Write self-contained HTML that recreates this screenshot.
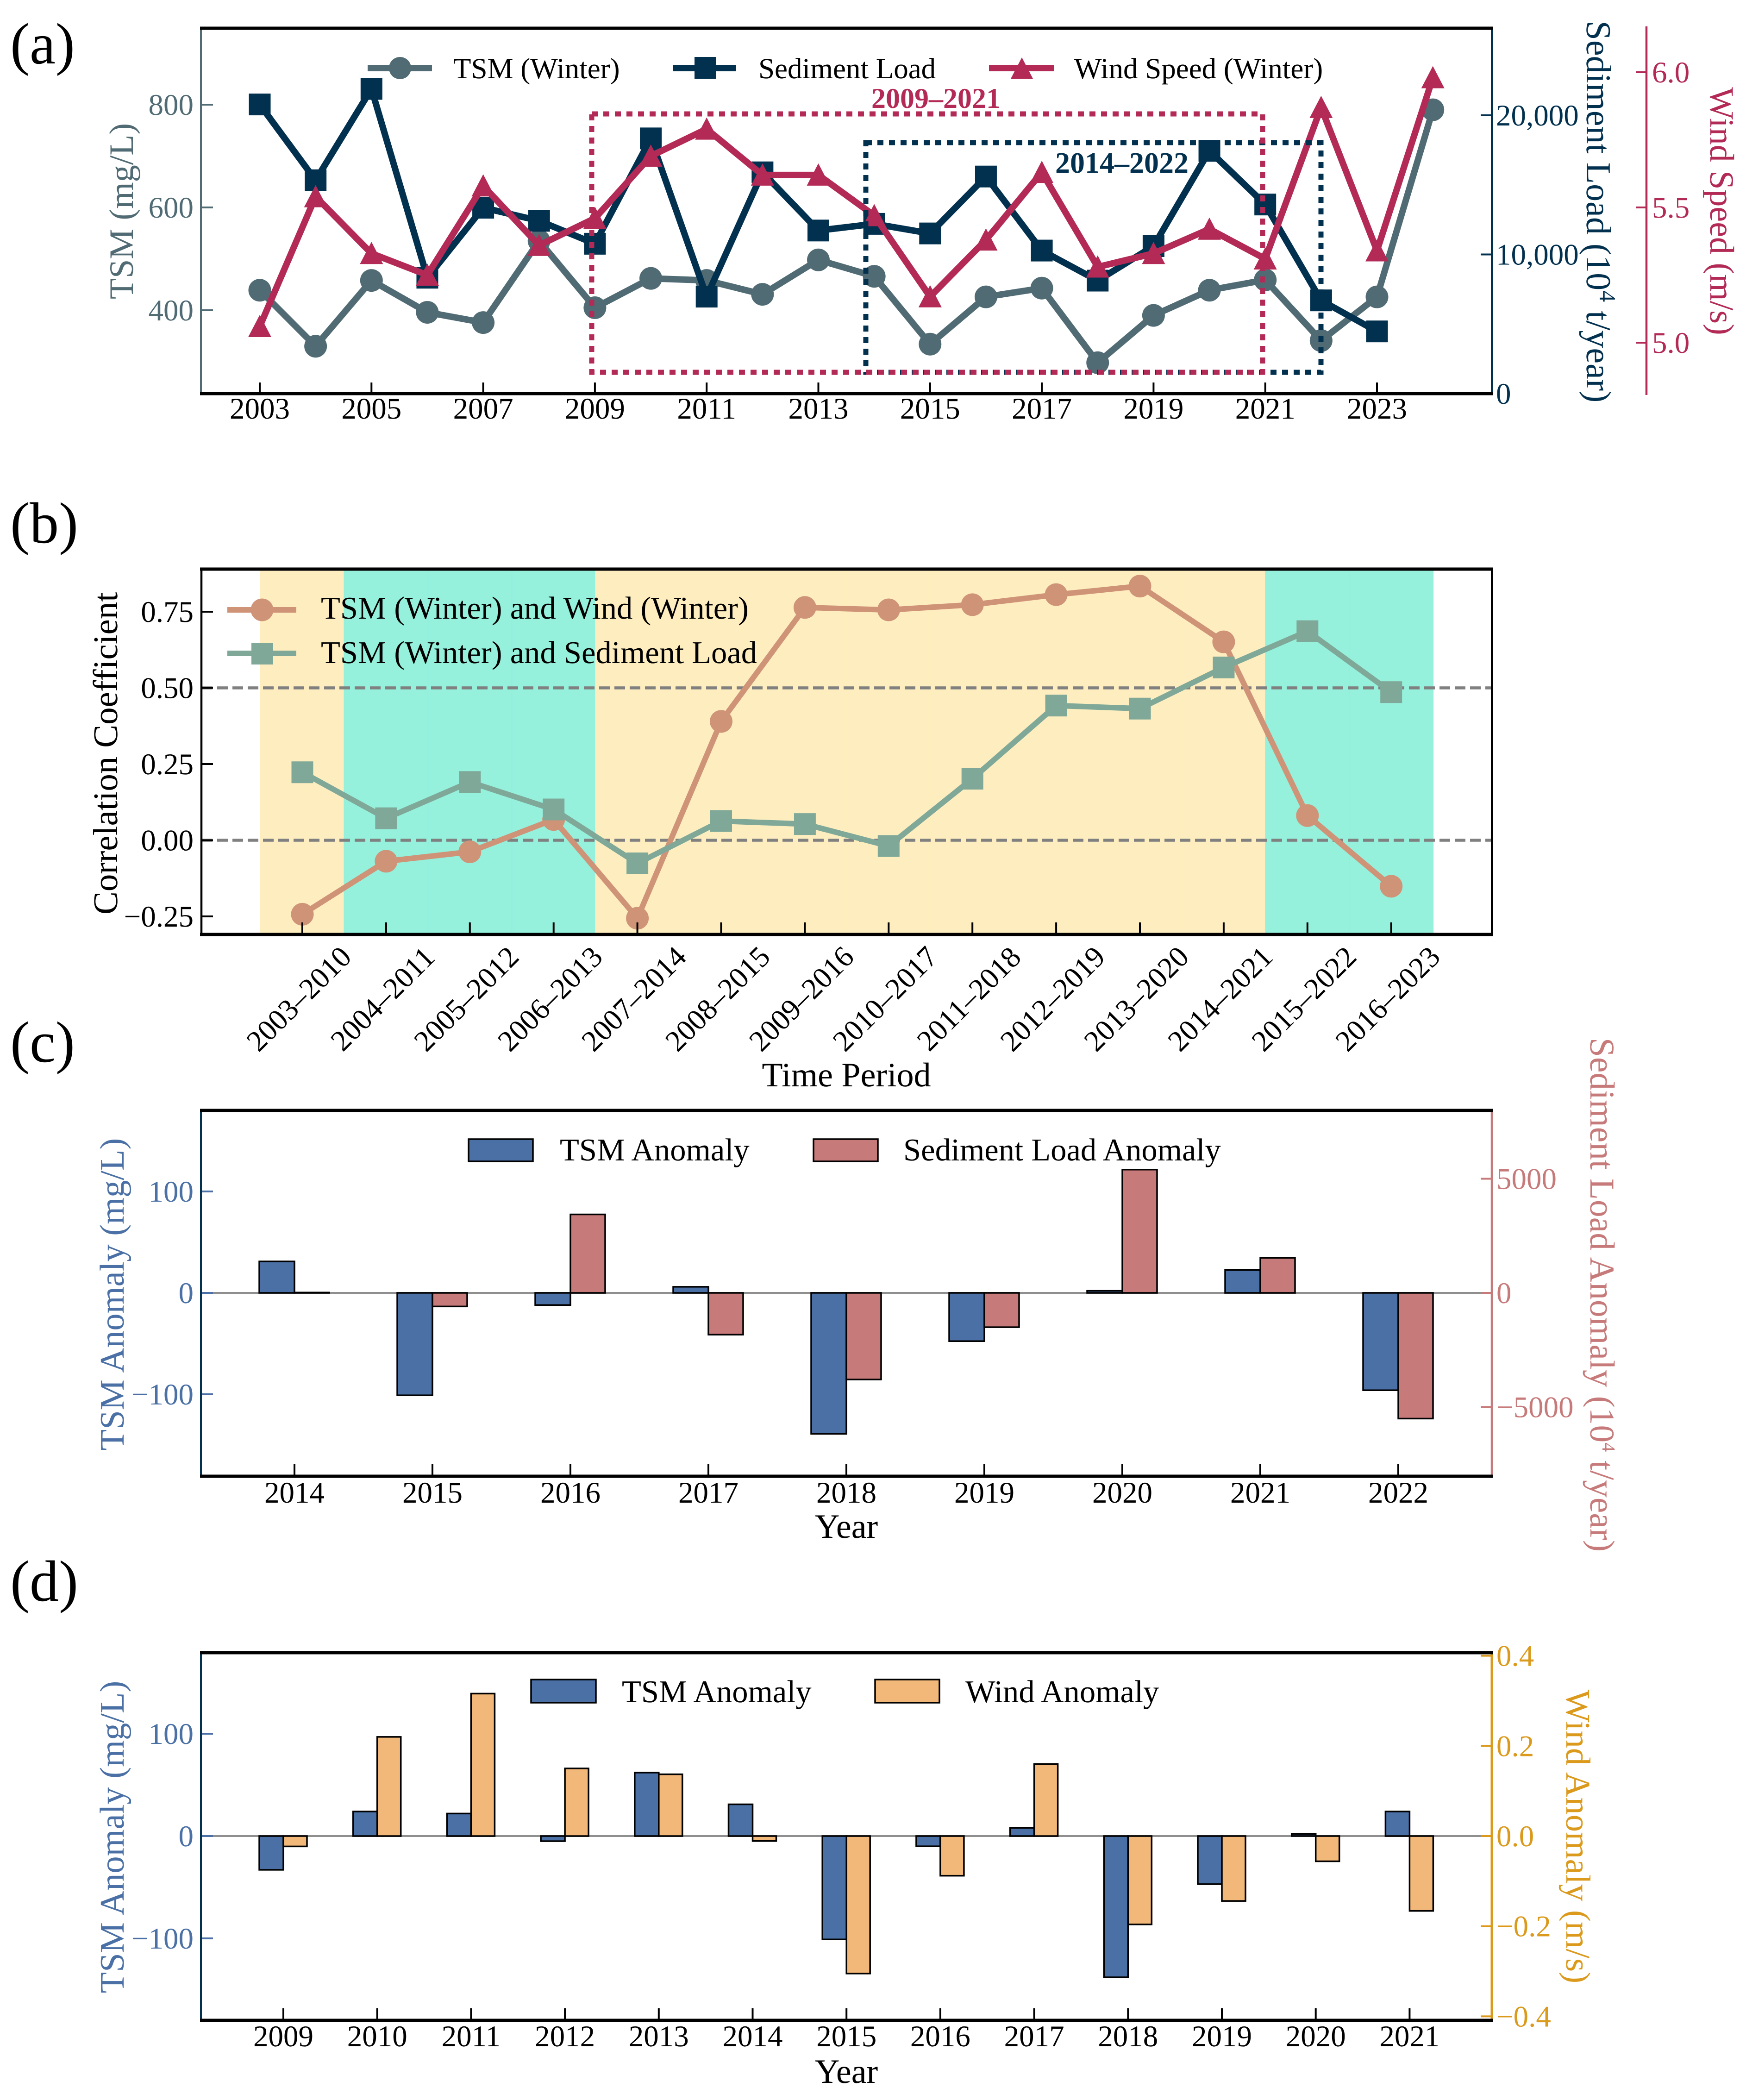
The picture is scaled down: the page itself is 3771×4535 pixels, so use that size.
<!DOCTYPE html>
<html lang="en">
<head>
<meta charset="utf-8">
<title>TSM, sediment load and wind speed</title>
<style>
html,body{margin:0;padding:0;background:#fff;}
svg{display:block;position:absolute;left:0;top:0;}
text{font-family:"Liberation Serif","Times New Roman",serif;text-rendering:geometricPrecision;}
</style>
</head>
<body>
<svg id="figure" xmlns="http://www.w3.org/2000/svg" width="3771" height="4535" viewBox="0 0 3771 4535">
  <rect x="0" y="0" width="3771" height="4535" fill="#ffffff"/>

  <!-- Panel letters -->
  <text x="22" y="137" font-size="126">(a)</text>
  <text x="22" y="1172" font-size="126">(b)</text>
  <text x="22" y="2293" font-size="126">(c)</text>
  <text x="22" y="3457" font-size="126">(d)</text>

  <g id="panelA"></g>
  <g id="panelB"></g>
  <g id="panelC"></g>
  <g id="panelD"></g>

  <!-- Panel A frame -->
  <g>
    <line x1="434" y1="61" x2="434" y2="850" stroke="#516b74" stroke-width="4"/>
    <line x1="3222" y1="61" x2="3222" y2="850" stroke="#02304f" stroke-width="4"/>
    <line x1="3556" y1="57" x2="3556" y2="853" stroke="#b22a55" stroke-width="4.5"/>
    <line x1="432" y1="61" x2="3224" y2="61" stroke="#000" stroke-width="7"/>
    <line x1="432" y1="850" x2="3224" y2="850" stroke="#000" stroke-width="7"/>
  </g>
  <text transform="translate(287,456) rotate(-90)" text-anchor="middle" font-size="74" fill="#516b74">TSM (mg/L)</text>
  <text transform="translate(3427,457) rotate(90)" text-anchor="middle" font-size="76" fill="#02304f">Sediment Load (10<tspan dy="-28" font-size="50">4</tspan><tspan dy="28"> t/year)</tspan></text>
  <text transform="translate(3694,456) rotate(90)" text-anchor="middle" font-size="74" fill="#b22a55">Wind Speed (m/s)</text>
  <rect x="1870" y="308" width="983" height="496" fill="none" stroke="#02304f" stroke-width="11" stroke-dasharray="13 12"/>
  <rect x="1278" y="246" width="1449" height="558" fill="none" stroke="#b22a55" stroke-width="11" stroke-dasharray="13 12"/>
  <text x="1882" y="233" font-size="62" font-weight="bold" fill="#b22a55">2009–2021</text>
  <text x="2279" y="373" font-size="64" font-weight="bold" fill="#02304f">2014–2022</text>
  <g>
    <g>
      <line x1="794" y1="147" x2="933" y2="147" stroke="#516b74" stroke-width="14"/>
      <circle cx="864" cy="147" r="24" fill="#516b74"/>
      <text x="979" y="169" font-size="63">TSM (Winter)</text>
    </g>
    <g>
      <line x1="1454" y1="147" x2="1590" y2="147" stroke="#02304f" stroke-width="14"/>
      <rect x="1500" y="123" width="47" height="47" fill="#02304f"/>
      <text x="1638" y="169" font-size="63">Sediment Load</text>
    </g>
    <g>
      <line x1="2136" y1="147" x2="2276" y2="147" stroke="#b22a55" stroke-width="14"/>
      <polygon points="2207,124 2231,170 2183,170" fill="#b22a55"/>
      <text x="2320" y="169" font-size="63">Wind Speed (Winter)</text>
    </g>
  </g>

  <!-- Panel B frame -->
  <g>
    <line x1="435" y1="1229" x2="435" y2="2017" stroke="#000" stroke-width="4.5"/>
    <line x1="3222" y1="1229" x2="3222" y2="2017" stroke="#000" stroke-width="4"/>
    <line x1="432" y1="1229" x2="3224" y2="1229" stroke="#000" stroke-width="7"/>
    <line x1="432" y1="2018" x2="3224" y2="2018" stroke="#000" stroke-width="7"/>
  </g>
  <text transform="translate(253,1627) rotate(-90)" text-anchor="middle" font-size="75" fill="#000">Correlation Coefficient</text>
  <text x="1828" y="2346" text-anchor="middle" font-size="74" fill="#000">Time Period</text>
  <g>
    <g>
      <line x1="491" y1="1317" x2="640" y2="1317" stroke="#cf9378" stroke-width="12"/>
      <circle cx="566" cy="1317" r="24.5" fill="#cf9378"/>
      <text x="693" y="1336" font-size="68.6">TSM (Winter) and Wind (Winter)</text>
    </g>
    <g>
      <line x1="491" y1="1411" x2="640" y2="1411" stroke="#7fa898" stroke-width="12"/>
      <rect x="543" y="1388" width="47" height="47" fill="#7fa898"/>
      <text x="693" y="1432" font-size="68.6">TSM (Winter) and Sediment Load</text>
    </g>
  </g>

  <!-- Panel C frame -->
  <g>
    <line x1="434" y1="2398" x2="434" y2="3188" stroke="#02304f" stroke-width="4"/>
    <line x1="3222" y1="2398" x2="3222" y2="3188" stroke="#c77a7a" stroke-width="4.5"/>
    <line x1="432" y1="2398" x2="3224" y2="2398" stroke="#000" stroke-width="7"/>
    <line x1="432" y1="3188" x2="3224" y2="3188" stroke="#000" stroke-width="7"/>
  </g>
  <text transform="translate(267,2795) rotate(-90)" text-anchor="middle" font-size="74.5" fill="#4a70a5">TSM Anomaly (mg/L)</text>
  <text transform="translate(3435,2796) rotate(90)" text-anchor="middle" font-size="75.5" fill="#c77a7a">Sediment Load Anomaly (10<tspan dy="-26" font-size="40">4</tspan><tspan dy="26"> t/year)</tspan></text>
  <text x="1828" y="3321" text-anchor="middle" font-size="74" fill="#000">Year</text>
  <g>
    <rect x="1012" y="2460" width="139" height="48" fill="#4a70a5" stroke="#000" stroke-width="3.5"/>
    <text x="1209" y="2506" font-size="68.6">TSM Anomaly</text>
    <rect x="1757" y="2460" width="139" height="48" fill="#c77a7a" stroke="#000" stroke-width="3.5"/>
    <text x="1951" y="2506" font-size="68.6">Sediment Load Anomaly</text>
  </g>

  <!-- Panel D frame -->
  <g>
    <line x1="434" y1="3569" x2="434" y2="4363" stroke="#02304f" stroke-width="4"/>
    <line x1="3222" y1="3569" x2="3222" y2="4363" stroke="#db9a1c" stroke-width="5"/>
    <line x1="432" y1="3569" x2="3224" y2="3569" stroke="#000" stroke-width="7"/>
    <line x1="432" y1="4363" x2="3224" y2="4363" stroke="#000" stroke-width="7"/>
  </g>
  <text transform="translate(267,3967) rotate(-90)" text-anchor="middle" font-size="74.5" fill="#4a70a5">TSM Anomaly (mg/L)</text>
  <text transform="translate(3383,3966) rotate(90)" text-anchor="middle" font-size="75" fill="#db9a1c">Wind Anomaly (m/s)</text>
  <text x="1828" y="4498" text-anchor="middle" font-size="74" fill="#000">Year</text>
  <g>
    <rect x="1147" y="3627" width="140" height="50" fill="#4a70a5" stroke="#000" stroke-width="3.5"/>
    <text x="1343" y="3676" font-size="68.6">TSM Anomaly</text>
    <rect x="1890" y="3627" width="139" height="50" fill="#f2b87a" stroke="#000" stroke-width="3.5"/>
    <text x="2085" y="3676" font-size="68.6">Wind Anomaly</text>
  </g>
</svg>

<script>
/* ---------- Panel (a) data ---------- */
const yearsA = [2003,2004,2005,2006,2007,2008,2009,2010,2011,2012,2013,2014,2015,2016,2017,2018,2019,2020,2021,2022,2023,2024];
const tsmWinter = [439,330,458,396,376,535,405,462,458,431,498,466,334,426,443,298,390,439,459,341,426,790];
const sedimentLoad = [20780,15330,21900,8330,13360,12420,10770,18340,6970,15900,11720,12200,11510,15600,10280,8120,10600,17450,13590,6700,4470];
const windSpeed = [5.06,5.54,5.33,5.25,5.58,5.36,5.46,5.69,5.79,5.62,5.62,5.47,5.17,5.38,5.63,5.28,5.33,5.42,5.31,5.87,5.34,5.98];
const yearTicksA = [2003,2005,2007,2009,2011,2013,2015,2017,2019,2021,2023];
const tsmTicksA = [400,600,800];
const sedimentTicks = [0,10000,20000];
const sedimentTickLabels = ['0','10,000','20,000'];
const windTicks = [5.0,5.5,6.0];
const windTickLabels = ['5.0','5.5','6.0'];

/* ---------- Panel (b) data ---------- */
const periods = ['2003–2010','2004–2011','2005–2012','2006–2013','2007–2014','2008–2015','2009–2016','2010–2017','2011–2018','2012–2019','2013–2020','2014–2021','2015–2022','2016–2023'];
const corrWind = [-0.243,-0.069,-0.038,0.068,-0.256,0.39,0.764,0.756,0.773,0.806,0.834,0.651,0.081,-0.151];
const corrSediment = [0.223,0.072,0.191,0.101,-0.076,0.063,0.053,-0.019,0.202,0.442,0.432,0.567,0.686,0.486];
const periodDriver = ['wind','sediment','sediment','sediment','wind','wind','wind','wind','wind','wind','wind','wind','sediment','sediment'];
const corrTicks = [-0.25,0,0.25,0.5,0.75];
const corrTickLabels = ['−0.25','0.00','0.25','0.50','0.75'];
const corrRefLines = [0,0.5];

/* ---------- Panel (c) data ---------- */
const yearsC = ['2014','2015','2016','2017','2018','2019','2020','2021','2022'];
const tsmAnomalyC = [31,-101,-12,6,-139,-47.6,2,22.5,-96];
const sedimentAnomaly = [15,-595,3437,-1830,-3795,-1503,5400,1533,-5506];
const tsmAnomalyTicks = [-100,0,100];
const tsmAnomalyTickLabels = ['−100','0','100'];
const sedAnomalyTicks = [-5000,0,5000];
const sedAnomalyTickLabels = ['−5000','0','5000'];

/* ---------- Panel (d) data ---------- */
const yearsD = ['2009','2010','2011','2012','2013','2014','2015','2016','2017','2018','2019','2020','2021'];
const tsmAnomalyD = [-33,24,22,-5,62,31,-101,-10,8,-138,-47,2,24];
const windAnomaly = [-0.023,0.22,0.316,0.15,0.137,-0.011,-0.305,-0.088,0.16,-0.196,-0.144,-0.056,-0.166];
const windAnomalyTicks = [-0.4,-0.2,0,0.2,0.4];
const windAnomalyTickLabels = ['−0.4','−0.2','0.0','0.2','0.4'];

/* ---------- Axis functions ---------- */
const xA = y => 561 + (y - 2003) * 120.65;
const yTsmA = v => 670 - (v - 400) * 1.11;
const ySedA = v => 850 - v * 0.03005;
const yWindA = v => 740 - (v - 5) * 584;
const xB = i => 653 + i * 180.9;
const yB = v => 1814.5 - v * 658;
const xC = i => 636 + i * 298;
const yTsmC = v => 2792 - v * 2.19;
const ySedC = v => 2792 - v * 0.0493;
const xD = i => 612 + i * 202.7;
const yTsmD = v => 3965 - v * 2.21;
const yWindD = v => 3965 - v * 973.5;

/* ---------- Colours ---------- */
const cTsm = '#516b74', cSed = '#02304f', cWind = '#b22a55';
const cCorrWind = '#cf9378', cCorrSed = '#7fa898';
const cBlue = '#4a70a5', cRose = '#c77a7a', cOrange = '#db9a1c', cPeach = '#f2b87a';
const spanFill = {wind: '#feedbc', sediment: '#8fefda'};

const NS = 'http://www.w3.org/2000/svg';
function make(tag, attrs, parent) {
  const el = document.createElementNS(NS, tag);
  for (const k in attrs) el.setAttribute(k, attrs[k]);
  parent.appendChild(el);
  return el;
}
function makeText(str, attrs, parent) {
  const el = make('text', attrs, parent);
  el.textContent = str;
  return el;
}
function pathFrom(xs, ys) {
  return xs.map((x, i) => (i ? 'L' : 'M') + x.toFixed(1) + ' ' + ys[i].toFixed(1)).join(' ');
}

const pA = document.getElementById('panelA');
const pB = document.getElementById('panelB');
const pC = document.getElementById('panelC');
const pD = document.getElementById('panelD');

/* ---------- Panel (a) ---------- */
const lineTsm = make('path', {d: pathFrom(yearsA.map(xA), tsmWinter.map(yTsmA)), fill: 'none', stroke: cTsm, 'stroke-width': 14}, pA);


tsmWinter.forEach((v, i) => {
  const m = make('circle', {cx: xA(yearsA[i]), cy: yTsmA(v), r: 24.5, fill: cTsm}, pA);
  
  
});
const lineSed = make('path', {d: pathFrom(sedimentLoad.map((v, i) => xA(yearsA[i])), sedimentLoad.map(ySedA)), fill: 'none', stroke: cSed, 'stroke-width': 14}, pA);


sedimentLoad.forEach((v, i) => {
  const m = make('rect', {x: xA(yearsA[i]) - 23.5, y: ySedA(v) - 23.5, width: 47, height: 47, fill: cSed}, pA);
  
  
});
const lineWind = make('path', {d: pathFrom(yearsA.map(xA), windSpeed.map(yWindA)), fill: 'none', stroke: cWind, 'stroke-width': 14}, pA);


windSpeed.forEach((v, i) => {
  const cx = xA(yearsA[i]), cy = yWindA(v);
  const m = make('polygon', {points: `${cx},${cy - 25} ${cx + 25},${cy + 23} ${cx - 25},${cy + 23}`, fill: cWind}, pA);
  
  
});
yearTicksA.forEach(y => {
  const t = make('line', {x1: xA(y), x2: xA(y), y1: 826, y2: 850, stroke: '#000', 'stroke-width': 4}, pA);
  
  
  const l = makeText(String(y), {x: xA(y), y: 904, 'text-anchor': 'middle', 'font-size': 65}, pA);
  
  
});
tsmTicksA.forEach(v => {
  const t = make('line', {x1: 434, x2: 460, y1: yTsmA(v), y2: yTsmA(v), stroke: cTsm, 'stroke-width': 4}, pA);
  
  
  const l = makeText(String(v), {x: 418, y: yTsmA(v) + 22, 'text-anchor': 'end', 'font-size': 65, fill: cTsm}, pA);
  
  
});
sedimentTicks.forEach((v, i) => {
  const t = make('line', {x1: 3198, x2: 3222, y1: ySedA(v), y2: ySedA(v), stroke: cSed, 'stroke-width': 4}, pA);
  
  
  const l = makeText(sedimentTickLabels[i], {x: 3231, y: ySedA(v) + 22, 'font-size': 65, fill: cSed}, pA);
  
  
});
windTicks.forEach((v, i) => {
  const t = make('line', {x1: 3534, x2: 3556, y1: yWindA(v), y2: yWindA(v), stroke: cWind, 'stroke-width': 4}, pA);
  
  
  const l = makeText(windTickLabels[i], {x: 3568, y: yWindA(v) + 22, 'font-size': 65, fill: cWind}, pA);
  
  
});

/* ---------- Panel (b) ---------- */
periodDriver.forEach((d, i) => {
  const r = make('rect', {x: xB(i - 0.5) - 1, y: 1232, width: xB(i + 0.5) - xB(i - 0.5) + 2, height: 783, fill: spanFill[d], 'fill-opacity': 0.95}, pB);
  
  
});
corrRefLines.forEach(v => {
  const r = make('line', {x1: 436, x2: 3220, y1: yB(v), y2: yB(v), stroke: '#808080', 'stroke-width': 6.5, 'stroke-dasharray': '23 10'}, pB);
  
  
});
const idxB = periods.map((p, i) => i);
const lineCw = make('path', {d: pathFrom(idxB.map(xB), corrWind.map(yB)), fill: 'none', stroke: cCorrWind, 'stroke-width': 12}, pB);


corrWind.forEach((v, i) => {
  const m = make('circle', {cx: xB(i), cy: yB(v), r: 24.5, fill: cCorrWind}, pB);
  
  
});
const lineCs = make('path', {d: pathFrom(idxB.map(xB), corrSediment.map(yB)), fill: 'none', stroke: cCorrSed, 'stroke-width': 12}, pB);


corrSediment.forEach((v, i) => {
  const m = make('rect', {x: xB(i) - 23.5, y: yB(v) - 23.5, width: 47, height: 47, fill: cCorrSed}, pB);
  
  
});
periods.forEach((p, i) => {
  const t = make('line', {x1: xB(i), x2: xB(i), y1: 1992, y2: 2017, stroke: '#000', 'stroke-width': 4}, pB);
  
  
  const l = makeText(p, {transform: `translate(${xB(i) + 7.5},2172) rotate(-45)`, 'text-anchor': 'middle', 'font-size': 64}, pB);
  
  
});
corrTicks.forEach((v, i) => {
  const t = make('line', {x1: 434, x2: 460, y1: yB(v), y2: yB(v), stroke: '#000', 'stroke-width': 4}, pB);
  
  
  const l = makeText(corrTickLabels[i], {x: 418, y: yB(v) + 22, 'text-anchor': 'end', 'font-size': 65}, pB);
  
  
});

/* ---------- Panel (c) ---------- */
const zeroC = make('line', {x1: 434, x2: 3222, y1: yTsmC(0), y2: yTsmC(0), stroke: '#8f8f8f', 'stroke-width': 4}, pC);


yearsC.forEach((y, i) => {
  const v1 = yTsmC(tsmAnomalyC[i]), b0 = yTsmC(0);
  const a = make('rect', {x: xC(i) - 76, y: Math.min(v1, b0), width: 76, height: Math.abs(v1 - b0), fill: cBlue, stroke: '#000', 'stroke-width': 3.5}, pC);
  
  
  const v2 = ySedC(sedimentAnomaly[i]);
  const b = make('rect', {x: xC(i), y: Math.min(v2, b0), width: 75, height: Math.abs(v2 - b0), fill: cRose, stroke: '#000', 'stroke-width': 3.5}, pC);
  
  
  const t = make('line', {x1: xC(i), x2: xC(i), y1: 3162, y2: 3188, stroke: '#000', 'stroke-width': 4}, pC);
  
  
  const l = makeText(y, {x: xC(i), y: 3245, 'text-anchor': 'middle', 'font-size': 65}, pC);
  
  
});
tsmAnomalyTicks.forEach((v, i) => {
  const t = make('line', {x1: 434, x2: 460, y1: yTsmC(v), y2: yTsmC(v), stroke: cBlue, 'stroke-width': 4}, pC);
  
  
  const l = makeText(tsmAnomalyTickLabels[i], {x: 418, y: yTsmC(v) + 22, 'text-anchor': 'end', 'font-size': 65, fill: cBlue}, pC);
  
  
});
sedAnomalyTicks.forEach((v, i) => {
  const t = make('line', {x1: 3198, x2: 3222, y1: ySedC(v), y2: ySedC(v), stroke: cRose, 'stroke-width': 4}, pC);
  
  
  const l = makeText(sedAnomalyTickLabels[i], {x: 3232, y: ySedC(v) + 22, 'font-size': 65, fill: cRose}, pC);
  
  
});

/* ---------- Panel (d) ---------- */
const zeroD = make('line', {x1: 434, x2: 3222, y1: yTsmD(0), y2: yTsmD(0), stroke: '#8f8f8f', 'stroke-width': 4}, pD);


yearsD.forEach((y, i) => {
  const v1 = yTsmD(tsmAnomalyD[i]), b0 = yTsmD(0);
  const a = make('rect', {x: xD(i) - 52, y: Math.min(v1, b0), width: 52, height: Math.abs(v1 - b0), fill: cBlue, stroke: '#000', 'stroke-width': 3.5}, pD);
  
  
  const v2 = yWindD(windAnomaly[i]);
  const b = make('rect', {x: xD(i), y: Math.min(v2, b0), width: 51, height: Math.abs(v2 - b0), fill: cPeach, stroke: '#000', 'stroke-width': 3.5}, pD);
  
  
  const t = make('line', {x1: xD(i), x2: xD(i), y1: 4337, y2: 4363, stroke: '#000', 'stroke-width': 4}, pD);
  
  
  const l = makeText(y, {x: xD(i), y: 4419, 'text-anchor': 'middle', 'font-size': 65}, pD);
  
  
});
tsmAnomalyTicks.forEach((v, i) => {
  const t = make('line', {x1: 434, x2: 460, y1: yTsmD(v), y2: yTsmD(v), stroke: cBlue, 'stroke-width': 4}, pD);
  
  
  const l = makeText(tsmAnomalyTickLabels[i], {x: 418, y: yTsmD(v) + 22, 'text-anchor': 'end', 'font-size': 65, fill: cBlue}, pD);
  
  
});
windAnomalyTicks.forEach((v, i) => {
  const t = make('line', {x1: 3198, x2: 3222, y1: yWindD(v), y2: yWindD(v), stroke: cOrange, 'stroke-width': 4}, pD);
  
  
  const l = makeText(windAnomalyTickLabels[i], {x: 3232, y: yWindD(v) + 22, 'font-size': 65, fill: cOrange}, pD);
  
  
});
</script>
</body>
</html>
